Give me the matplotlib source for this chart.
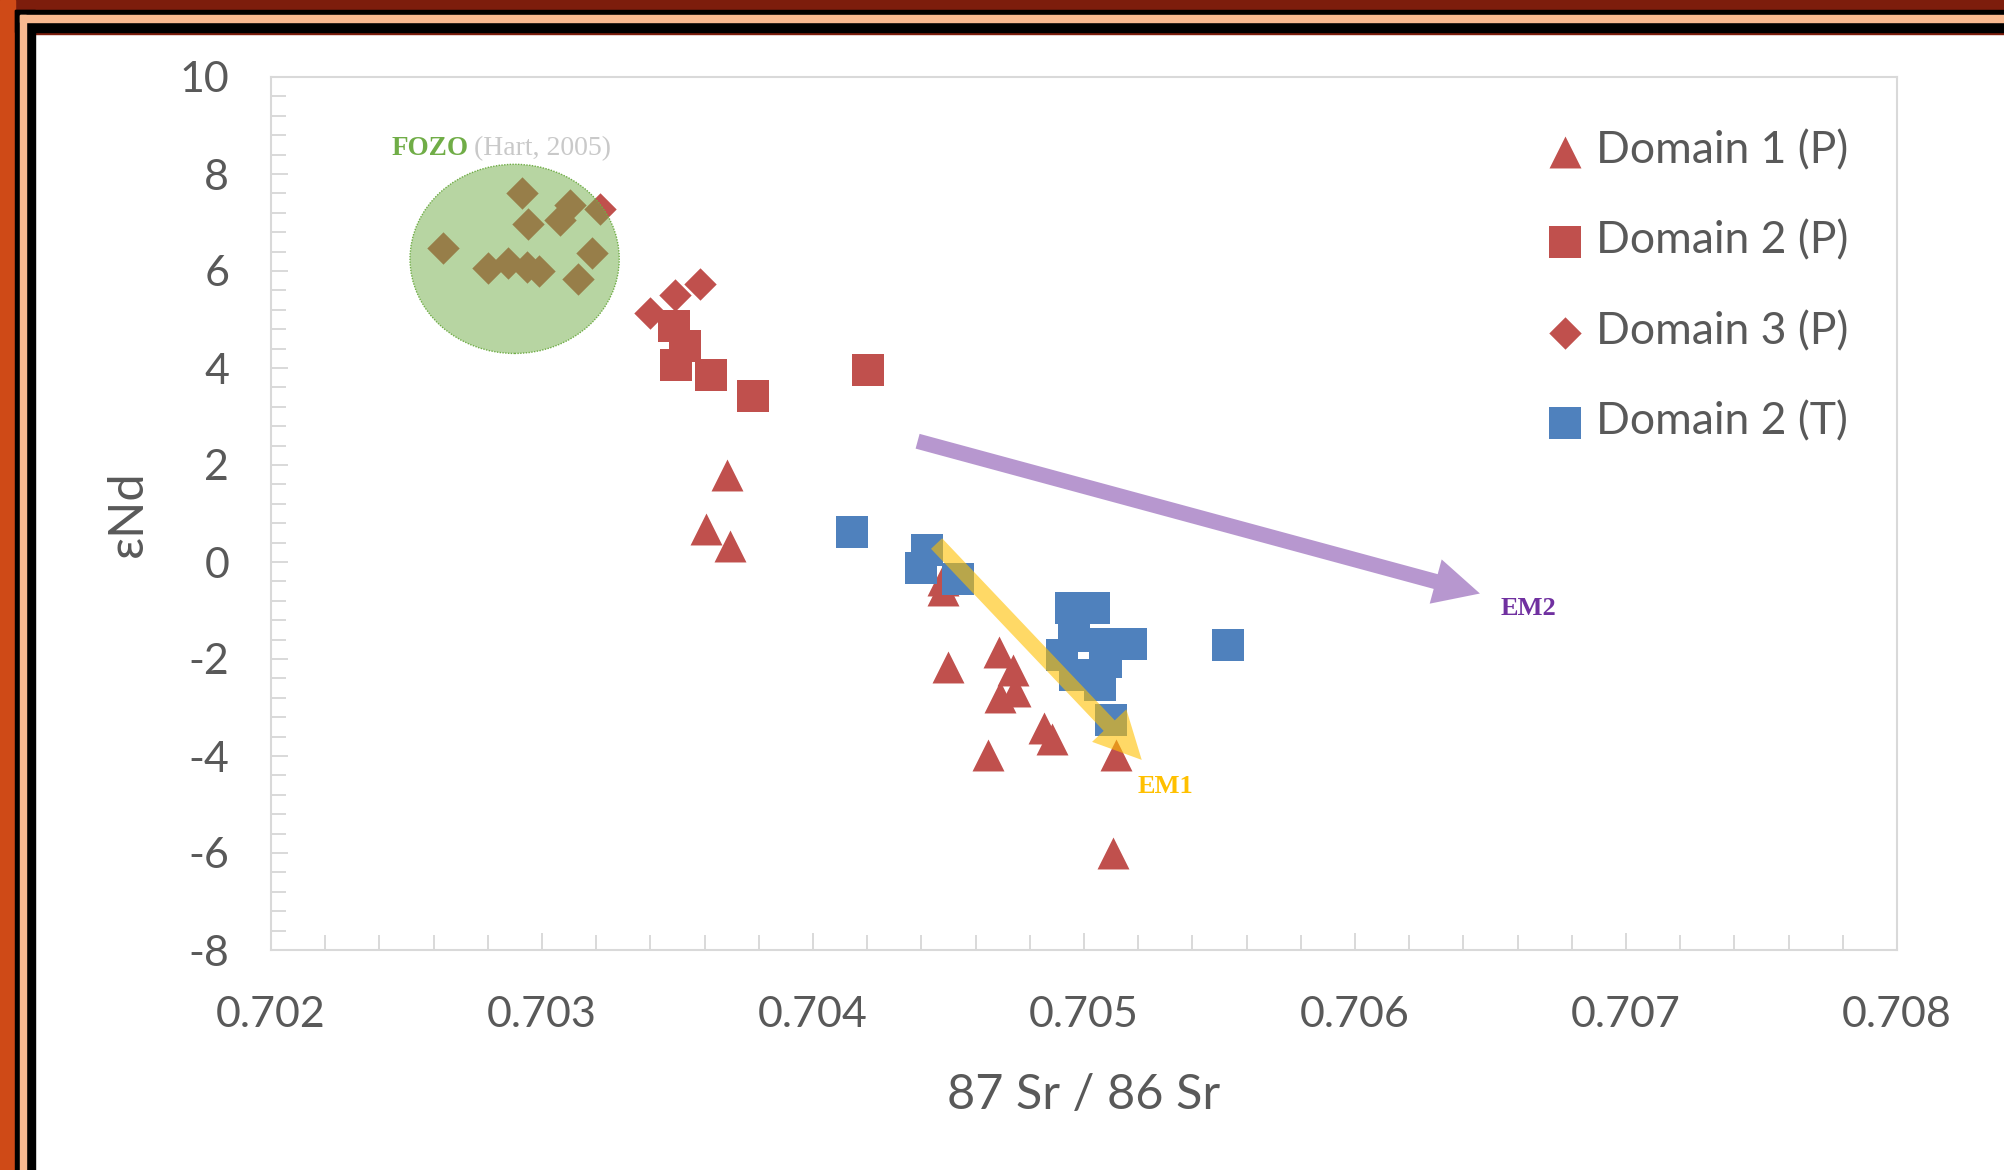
import matplotlib
matplotlib.use("Agg")
import matplotlib.pyplot as plt
from matplotlib.patches import Ellipse, Rectangle, FancyArrowPatch
from matplotlib.ticker import MultipleLocator, FuncFormatter

# Domain 1 (P) - red triangles
d1p_sr = [0.703684, 0.703605, 0.703694, 0.704479, 0.704479, 0.704497, 0.704686,
          0.704737, 0.704690, 0.704745, 0.704852, 0.704883, 0.704647, 0.705117, 0.705106]
d1p_nd = [1.79, 0.69, 0.32, -0.38, -0.57, -2.16, -1.86,
          -2.23, -2.78, -2.67, -3.43, -3.64, -3.98, -3.98, -6.01]

# Domain 2 (P) - red squares
d2p_sr = [0.703487, 0.703528, 0.703494, 0.703622, 0.703780, 0.704204]
d2p_nd = [4.87, 4.45, 4.06, 3.86, 3.42, 3.96]

# Domain 3 (P) - red diamonds
d3p_sr = [0.702927, 0.702947, 0.703103, 0.703066, 0.703214, 0.702634, 0.703183, 0.703134,
          0.702802, 0.702876, 0.702943, 0.702990, 0.703583, 0.703491, 0.703399]
d3p_nd = [7.61, 6.96, 7.36, 7.05, 7.27, 6.48, 6.38, 5.83,
          6.06, 6.16, 6.09, 5.99, 5.73, 5.51, 5.13]

# Domain 2 (T) - blue squares
d2t_sr = [0.704144, 0.704421, 0.704399, 0.704535, 0.704952, 0.705037, 0.704963, 0.705077,
          0.705173, 0.704919, 0.705081, 0.704967, 0.705059, 0.705100, 0.705531]
d2t_nd = [0.62, 0.25, -0.12, -0.35, -0.95, -0.95, -1.53, -1.69,
          -1.69, -1.92, -2.06, -2.33, -2.54, -3.26, -1.71]

labels = ["Domain 1 (P)", "Domain 2 (P)", "Domain 3 (P)", "Domain 2 (T)"]

# annotation shapes (data coords)
fozo_center = (0.702899, 6.25)
fozo_size = (0.000772, 3.90)
em1_arrow = [(0.704456, 0.38), (0.705213, -4.08)]
em2_arrow = [(0.704386, 2.49), (0.706461, -0.65)]

RED = '#c0504d'
BLUE = '#4f81bd'
GRAY = '#595959'
FONT = ['Lato', 'DejaVu Sans']
SERIF = ['Liberation Serif', 'DejaVu Serif']

W, H = 2004, 1170
fig = plt.figure(figsize=(W / 100, H / 100), dpi=100)
fig.patch.set_facecolor('white')


def px_rect(x0, y0, x1, y1, color):
    # rectangle in figure pixels, y measured from the top
    fig.patches.append(Rectangle((x0 / W, 1 - y1 / H), (x1 - x0) / W, (y1 - y0) / H,
                                 transform=fig.transFigure, color=color, zorder=-10))


# lava-ish border, black / peach / black frame
px_rect(0, 0, W, 34, '#7d1d0c')
px_rect(0, 0, 15, H, '#cf4a17')
px_rect(15, 10, W, 32, 'black')
px_rect(15, 10, 35, H, 'black')
px_rect(20, 15, W, 22, '#f8b990')
px_rect(20, 15, 26, H, '#f8b990')

ax = fig.add_axes([271 / W, 1 - 950 / H, 1626 / W, 873 / H])

ax.scatter(d1p_sr, d1p_nd, marker='^', s=23 ** 2, color=RED, linewidths=0, label=labels[0], zorder=3)
ax.scatter(d2p_sr, d2p_nd, marker='s', s=23 ** 2, color=RED, linewidths=0, label=labels[1], zorder=3)
ax.scatter(d3p_sr, d3p_nd, marker='D', s=16.5 ** 2, color=RED, linewidths=0, label=labels[2], zorder=3)
ax.scatter(d2t_sr, d2t_nd, marker='s', s=23 ** 2, color=BLUE, linewidths=0, label=labels[3], zorder=4)

# FOZO field
ax.add_patch(Ellipse(fozo_center, fozo_size[0], fozo_size[1], facecolor='#70ad47', alpha=0.5,
                     edgecolor='none', zorder=5))
ax.add_patch(Ellipse(fozo_center, fozo_size[0], fozo_size[1], facecolor='none',
                     edgecolor='#70ad47', linestyle=(0, (1, 1)), linewidth=1.0, zorder=5))
fozo = ax.text(0.702445, 8.39, "FOZO", family=SERIF, fontweight='bold', fontsize=19.5,
               color='#70ad47', va='baseline', ha='left', zorder=6)
ax.annotate("(Hart, 2005)", xy=(1, 0), xycoords=fozo, xytext=(4, 0), textcoords='offset points',
            family=SERIF, fontsize=20, color='#c9c9c9', va='bottom', ha='left', zorder=6)

# mixing arrows
ax.add_patch(FancyArrowPatch(em2_arrow[0], em2_arrow[1],
                             arrowstyle='simple,head_length=33,head_width=33,tail_width=11',
                             mutation_scale=1, shrinkA=0, shrinkB=0, color='#7030a0',
                             alpha=0.5, linewidth=0, zorder=6))
ax.add_patch(FancyArrowPatch(em1_arrow[0], em1_arrow[1],
                             arrowstyle='simple,head_length=34,head_width=34,tail_width=11',
                             mutation_scale=1, shrinkA=0, shrinkB=0, color='#ffc000',
                             alpha=0.6, linewidth=0, zorder=6))
ax.text(0.705199, -4.76, "EM1", family=SERIF, fontweight='bold', fontsize=19,
        color='#ffc000', va='baseline', ha='left', zorder=6)
ax.text(0.706538, -1.09, "EM2", family=SERIF, fontweight='bold', fontsize=19,
        color='#7030a0', va='baseline', ha='left', zorder=6)

ax.set_xlim(0.702, 0.708)
ax.set_ylim(-8, 10)
ax.xaxis.set_major_locator(MultipleLocator(0.001))
ax.xaxis.set_minor_locator(MultipleLocator(0.0002))
ax.yaxis.set_major_locator(MultipleLocator(2))
ax.yaxis.set_minor_locator(MultipleLocator(0.4))
ax.xaxis.set_major_formatter(FuncFormatter(lambda v, p: "%.3f" % v))
ax.yaxis.set_major_formatter(FuncFormatter(lambda v, p: "%d" % round(v)))

for sp in ax.spines.values():
    sp.set_color('#d9d9d9')
    sp.set_linewidth(1.5)
ax.tick_params(which='both', direction='in', color='#d0d0d0', width=1.1,
               top=False, right=False)
ax.tick_params(which='major', length=12, labelsize=31, labelcolor=GRAY)
ax.tick_params(axis='x', which='major', pad=33)
ax.tick_params(axis='y', which='major', pad=30)
ax.tick_params(which='minor', length=10.5)
for lab in ax.get_xticklabels() + ax.get_yticklabels():
    lab.set_family(FONT)

ax.set_xlabel("87 Sr / 86 Sr", family=FONT, fontsize=35, color=GRAY, va='center')
ax.xaxis.set_label_coords(0.5, -(1095 - 950) / 873)
ax.set_ylabel("εNd", family=FONT, fontsize=35, color=GRAY, va='center')
ax.yaxis.set_label_coords(-(271 - 128) / 1626, 0.5)

leg = ax.legend(loc='upper left', bbox_to_anchor=(1547 / W, 1 - 130 / H),
                bbox_transform=fig.transFigure, frameon=False, fontsize=32,
                handlelength=0.8, handletextpad=0.3, labelspacing=1.11,
                borderpad=0, borderaxespad=0, scatterpoints=1)
for t in leg.get_texts():
    t.set_color(GRAY)
    t.set_family(FONT)

fig.savefig('out.png', dpi=100)
